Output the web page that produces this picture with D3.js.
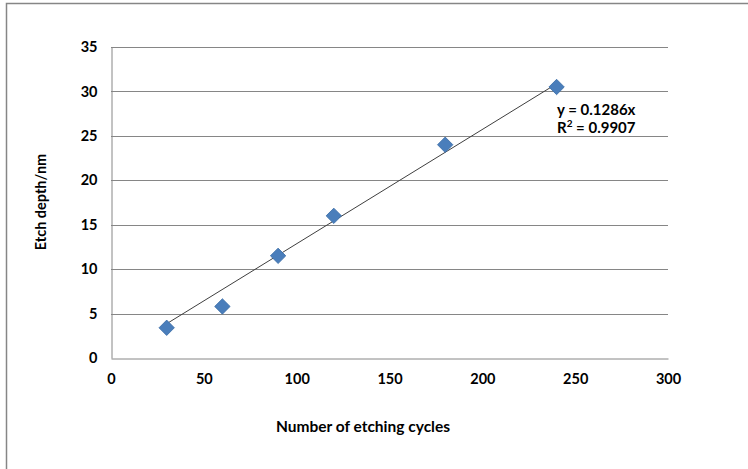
<!DOCTYPE html>
<html><head><meta charset="utf-8">
<script src="https://cdn.jsdelivr.net/npm/d3@7"></script>
<style>body{margin:0;background:#fff}svg{display:block}text{font-family:Lato,"Open Sans",sans-serif;font-weight:bold;fill:#000}</style>
</head><body><svg id="c" width="748" height="469"></svg>
<script>
const cycles = [30, 60, 90, 120, 180, 240];
const depth = [3.4, 5.8, 11.5, 16, 24, 30.5];
const xTicks = [0, 50, 100, 150, 200, 250, 300];
const yTicks = [0, 5, 10, 15, 20, 25, 30, 35];
const slope = 0.1286;
const eqLabel = "y = 0.1286x";
const r2Value = "0.9907";

const svg = d3.select("#c");
svg.append("rect").attr("x",6.5).attr("y",3.5).attr("width",760).attr("height",480)
  .attr("fill","#fff").attr("stroke","#868686").attr("stroke-width",1.5);

const x = d3.scaleLinear().domain([0,300]).range([111,668]);
const y = d3.scaleLinear().domain([0,35]).range([358,47]);

// gridlines
svg.append("g").selectAll("line").data(yTicks.filter(d=>d>0)).join("line")
  .attr("x1",x(0)).attr("x2",x(300)).attr("y1",d=>Math.round(y(d))+0.5).attr("y2",d=>Math.round(y(d))+0.5)
  .attr("stroke","#868686").attr("stroke-width",1);

// axes
const yAxis = svg.append("g").attr("transform",`translate(${x(0)+0.5},0)`)
  .call(d3.axisLeft(y).tickValues(yTicks).tickSize(0).tickPadding(14));
const xAxis = svg.append("g").attr("transform",`translate(0,${y(0)+0.5})`)
  .call(d3.axisBottom(x).tickValues(xTicks).tickSize(0).tickPadding(15));
[yAxis,xAxis].forEach(a=>{a.select(".domain").attr("stroke","#868686");
  a.selectAll("text").style("font-size","14.5px").style("font-family","Lato,'Open Sans',sans-serif").style("font-weight","bold").attr("fill","#000");});

// trendline
svg.append("line").attr("x1",x(cycles[0])).attr("y1",y(slope*cycles[0]))
  .attr("x2",x(cycles[cycles.length-1])).attr("y2",y(slope*cycles[cycles.length-1]))
  .attr("stroke","#3f3f3f").attr("stroke-width",1);

// markers
svg.append("g").selectAll("path").data(cycles.map((c,i)=>[c,depth[i]])).join("path")
  .attr("d",d3.symbol(d3.symbolSquare,118)())
  .attr("transform",d=>`translate(${x(d[0])},${y(d[1])}) rotate(45)`)
  .attr("fill","#4a7ebb").attr("stroke","#3c6ea8").attr("stroke-width",0.8);

// equation
svg.append("text").attr("x",557).attr("y",115).style("font-size","15px").text(eqLabel);
const r = svg.append("text").attr("x",557).attr("y",133).style("font-size","15px");
r.append("tspan").text("R");
r.append("tspan").attr("dy",-6).style("font-size","10px").text("2");
r.append("tspan").attr("dy",6).text(" = " + r2Value);

// axis titles
svg.append("text").attr("x",363).attr("y",432).attr("text-anchor","middle").style("font-size","15.5px").text("Number of etching cycles");
svg.append("text").attr("transform","translate(46,202) rotate(-90)").attr("text-anchor","middle").style("font-size","14.5px").text("Etch depth/nm");
</script></body></html>
